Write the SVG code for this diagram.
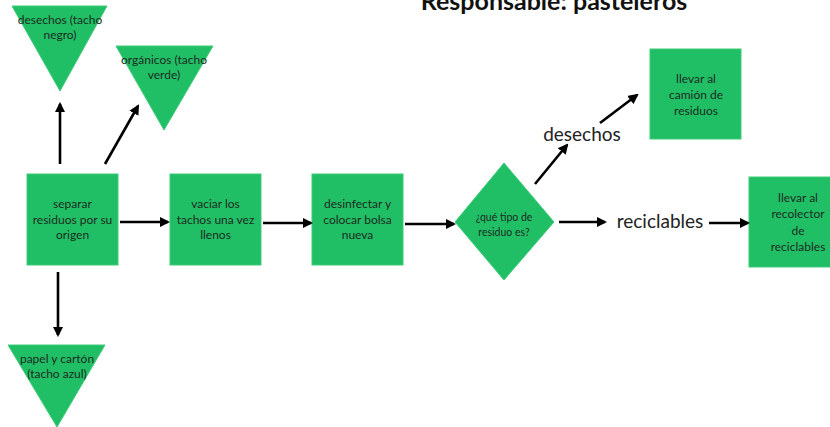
<svg xmlns="http://www.w3.org/2000/svg" width="830" height="427" viewBox="0 0 830 427">
<style>
.n{fill:#21bf65;stroke:#3fcb7b;stroke-width:1}
.t{font-family:Lato,"Open Sans",sans-serif;font-size:12px;fill:#1d2b22;text-anchor:middle}
.lbl{font-family:Lato,"Open Sans",sans-serif;font-size:19px;fill:#222;text-anchor:middle}
.c line{stroke:#000;stroke-width:2.6;marker-end:url(#ah)}
</style>
<defs>
<marker id="ah" viewBox="0 0 10 10" refX="8" refY="5" markerWidth="4" markerHeight="4" orient="auto" markerUnits="strokeWidth">
<path d="M0,0 L10,5 L0,10 z" fill="#000"/>
</marker>
</defs>
<rect width="830" height="427" fill="#fff"/>
<text x="554" y="10" font-family="Lato,'Open Sans',sans-serif" font-weight="bold" font-size="25" fill="#111" text-anchor="middle">Responsable: pasteleros</text>

<g id="tri-negro"><polygon class="n" points="12,6 107,6 60,91"/>
<text class="t" x="60" y="24">desechos (tacho</text><text class="t" x="60" y="39">negro)</text></g>
<g id="tri-verde"><polygon class="n" points="116,46 213,46 164,130"/>
<text class="t" x="164" y="64">orgánicos (tacho</text><text class="t" x="164" y="79">verde)</text></g>
<g id="tri-azul"><polygon class="n" points="8,345 105,345 57,427"/>
<text class="t" x="57" y="363">papel y cartón</text><text class="t" x="57" y="378">(tacho azul)</text></g>

<g id="separar"><rect class="n" x="27" y="174" width="91" height="91"/>
<text class="t" x="72.5" y="208">separar</text><text class="t" x="72.5" y="224">residuos por su</text><text class="t" x="72.5" y="239">origen</text></g>
<g id="vaciar"><rect class="n" x="170" y="174" width="91" height="91"/>
<text class="t" x="215.5" y="208">vaciar los</text><text class="t" x="215.5" y="224">tachos una vez</text><text class="t" x="215.5" y="239">llenos</text></g>
<g id="desinfectar"><rect class="n" x="312" y="174" width="91" height="91"/>
<text class="t" x="357.5" y="208">desinfectar y</text><text class="t" x="357.5" y="224">colocar bolsa</text><text class="t" x="357.5" y="239">nueva</text></g>
<g id="decision"><polygon class="n" points="504,163 554,222 504,280 455,222"/>
<text class="t" x="504" y="221" style="font-size:10.5px">¿qué tipo de</text><text class="t" x="504" y="236" style="font-size:10.5px">residuo es?</text></g>
<g id="camion"><rect class="n" x="650" y="49" width="91" height="90"/>
<text class="t" x="696" y="83">llevar al</text><text class="t" x="696" y="99">camión de</text><text class="t" x="696" y="115">residuos</text></g>
<g id="recolector"><rect class="n" x="749" y="177" width="90" height="90"/>
<text class="t" x="798" y="202">llevar al</text><text class="t" x="798" y="218">recolector</text><text class="t" x="798" y="235">de</text><text class="t" x="798" y="251">reciclables</text></g>

<g id="labels">
<text class="lbl" x="582" y="141">desechos</text>
<text class="lbl" x="660" y="228">reciclables</text>
</g>

<g class="c" id="connectors">
<line x1="60" y1="164" x2="60" y2="104"/>
<line x1="105" y1="164" x2="138" y2="106"/>
<line x1="58" y1="272" x2="58" y2="335"/>
<line x1="120" y1="222" x2="168" y2="222"/>
<line x1="263" y1="223" x2="311" y2="223"/>
<line x1="405" y1="224" x2="454" y2="224"/>
<line x1="535" y1="184" x2="567" y2="145"/>
<line x1="600" y1="123" x2="637" y2="95"/>
<line x1="559" y1="222" x2="605" y2="222"/>
<line x1="709" y1="223" x2="748" y2="223"/>
</g>
</svg>
